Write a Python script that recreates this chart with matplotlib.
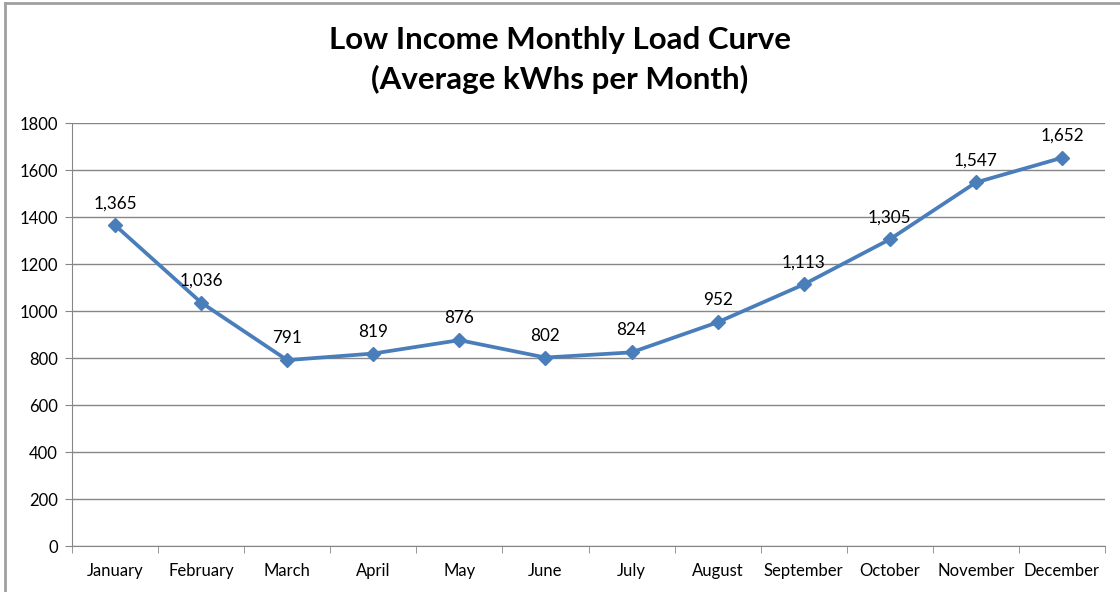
import matplotlib
matplotlib.use('Agg')
import matplotlib.pyplot as plt
from matplotlib.lines import Line2D

months = ['January', 'February', 'March', 'April', 'May', 'June', 'July',
          'August', 'September', 'October', 'November', 'December']
kwh = [1365, 1036, 791, 819, 876, 802, 824, 952, 1113, 1305, 1547, 1652]
yticks = [0, 200, 400, 600, 800, 1000, 1200, 1400, 1600, 1800]

plt.rcParams['font.family'] = ['Lato', 'DejaVu Sans']

fig = plt.figure(figsize=(11.2, 5.92), dpi=100)
ax = fig.add_axes([0.0643, 0.0777, 0.9223, 0.7145])

x = list(range(len(months)))
ax.plot(x, kwh, color='#4A7EBB', lw=2.7, marker='D', ms=7.5, zorder=3)
for xi, v in zip(x, kwh):
    ax.annotate(f'{v:,}', (xi, v), xytext=(0, 10), textcoords='offset points',
                ha='center', va='bottom', fontsize=12.3)

ax.set_xlim(-0.5, 11.5)
ax.set_ylim(0, 1800)
ax.set_yticks(yticks)
ax.set_xticks(x)
ax.set_xticklabels(months, fontsize=12)
ax.tick_params(axis='x', length=0, pad=12)
ax.set_xticks([i - 0.5 for i in range(13)], minor=True)
ax.tick_params(axis='x', which='minor', length=5, color='#868686')
ax.tick_params(axis='y', length=5, color='#868686', labelsize=12, pad=5)
ax.grid(axis='y', color='#868686', lw=1)
ax.set_axisbelow(True)
for s in ['top', 'right']:
    ax.spines[s].set_visible(False)
for s in ['left', 'bottom']:
    ax.spines[s].set_color('#868686')

fig.text(0.5, 0.932, 'Low Income Monthly Load Curve', ha='center', va='center',
         fontsize=22.5, fontweight='bold')
fig.text(0.5, 0.866, '(Average kWhs per Month)', ha='center', va='center',
         fontsize=22.5, fontweight='bold')

# outer chart frame (only top and left visible in the crop)
fig.add_artist(Line2D([5 / 1120, 1], [1 - 3 / 592, 1 - 3 / 592], color='#A0A0A0', lw=2))
fig.add_artist(Line2D([5 / 1120, 5 / 1120], [0, 1 - 3 / 592], color='#A0A0A0', lw=2))

fig.savefig('out.png', dpi=100)
